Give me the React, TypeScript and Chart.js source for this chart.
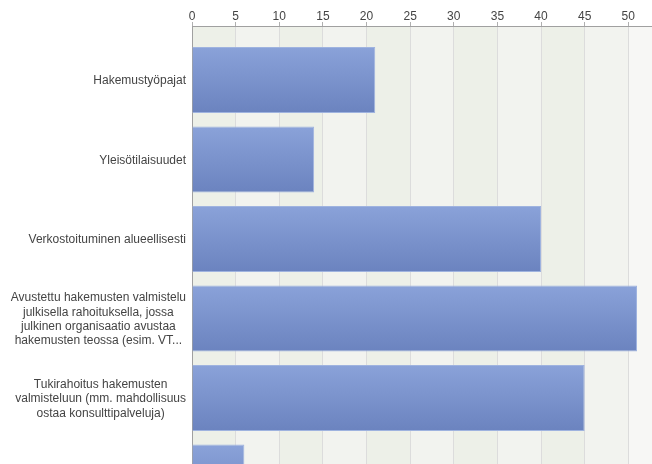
import React, { useEffect, useRef } from "react";
import { Chart, registerables } from "chart.js";

Chart.register(...registerables);

const categories: string[][] = [
  ["Hakemustyöpajat"],
  ["Yleisötilaisuudet"],
  ["Verkostoituminen alueellisesti"],
  [
    "Avustettu hakemusten valmistelu",
    "julkisella rahoituksella, jossa",
    "julkinen organisaatio avustaa",
    "hakemusten teossa (esim. VT...",
  ],
  [
    "Tukirahoitus hakemusten",
    "valmisteluun (mm. mahdollisuus",
    "ostaa konsulttipalveluja)",
  ],
  [""],
];

const values: number[] = [21, 14, 40, 51, 45, 6];

const xTicks: number[] = [0, 5, 10, 15, 20, 25, 30, 35, 40, 45, 50];

const FONT = '"Liberation Sans", Arial, sans-serif';

const bandsPlugin = {
  id: "bands",
  beforeDraw(chart: any) {
    const { ctx, chartArea, scales } = chart;
    const x = scales.x;
    ctx.save();
    ctx.fillStyle = "#f7f7f5";
    ctx.fillRect(chartArea.left, chartArea.top, chartArea.right - chartArea.left, chartArea.bottom - chartArea.top);
    for (let i = 0; i < xTicks.length - 1; i++) {
      const a = x.getPixelForValue(xTicks[i]);
      const b = x.getPixelForValue(xTicks[i + 1]);
      ctx.fillStyle = i % 2 === 0 ? "#edf0e8" : "#f2f3ef";
      ctx.fillRect(a, chartArea.top, b - a, chartArea.bottom - chartArea.top);
    }
    ctx.restore();
  },
};

const labelsPlugin = {
  id: "catLabels",
  afterDraw(chart: any) {
    const { ctx, scales } = chart;
    const y = scales.y;
    const right = 186;
    const lh = 14.3;
    ctx.save();
    ctx.font = `12px ${FONT}`;
    ctx.fillStyle = "#444444";
    ctx.textAlign = "center";
    ctx.textBaseline = "middle";
    categories.forEach((lines, i) => {
      const cy = y.getPixelForValue(i) + 1;
      const maxW = Math.max(...lines.map((l) => ctx.measureText(l).width));
      const cx = right - maxW / 2;
      const start = cy - ((lines.length - 1) * lh) / 2;
      lines.forEach((l, j) => {
        ctx.fillText(l, cx, start + j * lh);
      });
    });
    ctx.restore();
  },
};

export default function App() {
  const ref = useRef<HTMLCanvasElement | null>(null);

  useEffect(() => {
    if (!ref.current) return;
    const chart = new Chart(ref.current, {
      type: "bar",
      data: {
        datasets: [
          {
            data: values.map((v, i) => ({ x: v, y: i })) as any,
            backgroundColor: (c: any) => {
              const ch = c.chart;
              const ys = ch.scales && ch.scales.y;
              if (!ch.chartArea || !ys) return "#7b93cc";
              const cy = ys.getPixelForValue(c.dataIndex);
              const g = ch.ctx.createLinearGradient(0, cy - 33, 0, cy + 33);
              g.addColorStop(0, "#8aa2d9");
              g.addColorStop(1, "#6b83bf");
              return g;
            },
            borderColor: "#9fb3df",
            borderWidth: 1,
            barPercentage: 0.83,
            categoryPercentage: 1,
          },
        ],
      },
      options: {
        indexAxis: "y",
        animation: false,
        responsive: false,
        maintainAspectRatio: false,
        layout: { padding: 0 },
        plugins: {
          legend: { display: false },
          tooltip: { enabled: false },
        },
        scales: {
          x: {
            type: "linear",
            position: "top",
            min: 0,
            max: 52.72,
            offset: false,
            afterBuildTicks: (s: any) => {
              s.ticks = xTicks.map((v) => ({ value: v }));
            },
            afterFit: (s: any) => {
              s.height = 26;
            },
            ticks: {
              color: "#444444",
              font: { family: FONT, size: 12, lineHeight: 1 },
              padding: -1,
              maxRotation: 0,
            },
            grid: {
              color: "#dcdcdc",
              tickLength: 4,
              tickColor: "#b0b0b0",
            },
            border: { display: true, color: "#a0a0a0" },
          },
          y: {
            type: "linear",
            reverse: true,
            offset: false,
            min: -0.68,
            max: 4.83,
            afterBuildTicks: (s: any) => {
              s.ticks = categories.map((_, i) => ({ value: i }));
            },
            afterFit: (s: any) => {
              s.width = 192;
            },
            ticks: { display: false },
            grid: { display: false, offset: false },
            border: { display: true, color: "#a0a0a0" },
          },
        },
      },
      plugins: [bandsPlugin, labelsPlugin],
    } as any);
    return () => chart.destroy();
  }, []);

  return (
    <div
      style={{
        position: "fixed",
        left: 0,
        top: 0,
        width: 652,
        height: 464,
        background: "#ffffff",
      }}
    >
      <canvas ref={ref} width={652} height={464} style={{ display: "block" }} />
    </div>
  );
}
